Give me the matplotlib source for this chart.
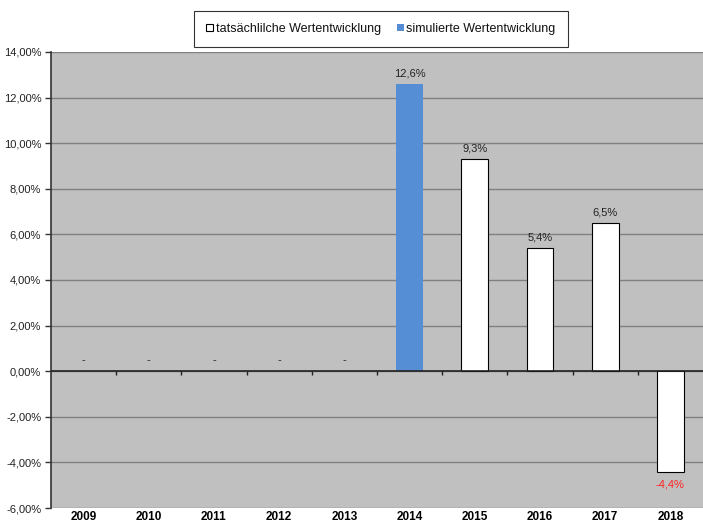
import numpy as np
import matplotlib
matplotlib.use("Agg")
import matplotlib.pyplot as plt
from matplotlib.patches import Patch
from matplotlib.ticker import FuncFormatter

plt.rcParams['font.family'] = ['Liberation Sans', 'DejaVu Sans']

# Daten
jahre = ['2009', '2010', '2011', '2012', '2013', '2014', '2015', '2016', '2017', '2018']
werte = [None, None, None, None, None, 12.6, 9.3, 5.4, 6.5, -4.4]
simuliert = [False, False, False, False, False, True, False, False, False, False]

fig = plt.figure(figsize=(7.03, 5.24), dpi=100)
ax = fig.add_axes([0.0725, 0.0305, 0.9275, 0.8703])
ax.set_facecolor('#c0c0c0')

x = np.arange(len(jahre))
for i, (w, sim) in enumerate(zip(werte, simuliert)):
    if w is None:
        # kein Wert -> Strich
        ax.text(i, 0.25, '-', ha='center', va='bottom', fontsize=8, color='#222222')
        continue
    if sim:
        ax.bar(i, w, width=0.41, color='#558ed5', edgecolor='none', zorder=3)
    else:
        ax.bar(i, w, width=0.41, color='white', edgecolor='black', linewidth=0.8, zorder=3)
    txt = f'{w:.1f}%'.replace('.', ',')
    if w >= 0:
        ax.text(i, w + 0.25, txt, ha='center', va='bottom', fontsize=8, color='#222222')
    else:
        ax.text(i, w - 0.35, txt, ha='center', va='top', fontsize=8, color='#ff2020')

ax.set_xlim(-0.5, len(jahre) - 0.5)
ax.set_ylim(-6, 14)
ax.set_yticks(np.arange(-6, 15, 2))
ax.yaxis.set_major_formatter(FuncFormatter(lambda v, p: f'{v:.2f}%'.replace('.', ',')))
ax.grid(axis='y', color='#808080', linewidth=1.0, zorder=0)
ax.set_axisbelow(True)

ax.set_xticks(x)
ax.set_xticklabels(jahre, fontweight='bold', fontsize=8.5)
ax.tick_params(axis='x', length=0, pad=2)
ax.tick_params(axis='y', length=4, width=1, color='#333333', labelsize=8, labelcolor='#222222', pad=3)

# Nulllinie mit Trennstrichen
ax.axhline(0, color='#222222', linewidth=1.2, zorder=4)
ax.vlines(x[:-1] + 0.5, -0.15, 0, color='#222222', linewidth=1, zorder=4)

for s in ['top', 'right', 'bottom']:
    ax.spines[s].set_visible(False)
ax.spines['left'].set_color('#333333')
ax.spines['left'].set_linewidth(1.2)

handles = [Patch(facecolor='white', edgecolor='black', linewidth=0.8),
           Patch(facecolor='#558ed5', edgecolor='none')]
labels = ['tatsächlilche Wertentwicklung', 'simulierte Wertentwicklung']
leg = fig.legend(handles, labels, loc='center', bbox_to_anchor=(0.542, 0.945), ncol=2,
                 fontsize=9, frameon=True, fancybox=False, edgecolor='black',
                 handlelength=0.55, handleheight=0.55, handletextpad=0.2,
                 columnspacing=1.3, borderpad=0.95, borderaxespad=0.0)
leg.get_frame().set_linewidth(0.8)
for t in leg.get_texts():
    t.set_color('#111111')

fig.savefig('out.png', dpi=100)
